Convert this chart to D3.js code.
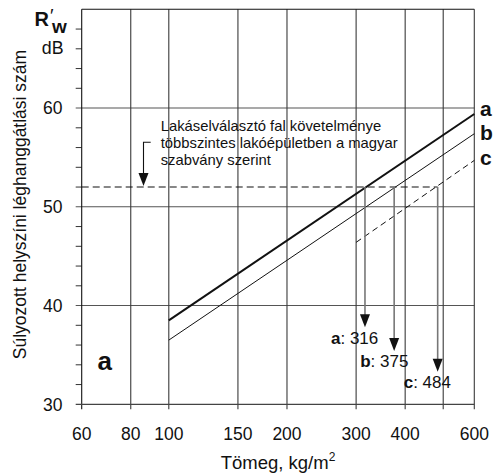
<!DOCTYPE html>
<html><head><meta charset="utf-8">
<script src="https://cdn.jsdelivr.net/npm/d3@7"></script>
<style>
body{margin:0;background:#fff}
svg{display:block}
text{font-family:"Liberation Sans",Arial,Helvetica,sans-serif;fill:#111}
</style>
</head><body>
<svg id="chart" width="494" height="475"></svg>
<script>
// ---- data ----
const xTickValues = [60, 80, 100, 150, 200, 300, 400, 600];
const xGridValues = [80, 100, 150, 200, 300, 400, 500, 600];
const yTickValues = [30, 40, 50, 60];
const yMinorValues = [32, 34, 36, 38, 42, 44, 46, 48, 52, 54, 56, 58, 62, 64, 66, 68];
const seriesNames = ["a", "b", "c"];
const seriesA = [[100, 38.5], [600, 59.4]];
const seriesB = [[100, 36.5], [600, 57.4]];
const seriesC = [[300, 46.4], [600, 54.7]];
const requirementDb = 52;
const resultMass = [316, 375, 484];
const resultArrowEndDb = [37.8, 35.4, 33.3];
const noteLines = ["Lakáselválasztó fal követelménye", "többszintes lakóépületben a magyar", "szabvány szerint"];
const yTitle = "Súlyozott helyszíni léghanggátlási szám";
const xTitle = "Tömeg, kg/m";

// ---- scales ----
const svg = d3.select("#chart");
const x = d3.scaleLog().domain([60, 600]).range([81.7, 474.3]);
const y = d3.scaleLinear().domain([30, 70]).range([404.3, 9.3]);
const X0 = x(60), X1 = x(600), Y0 = y(30), Y1 = y(70);
const gridCol = "#3a3a3a";

// horizontal grid
svg.append("g").selectAll("line").data(yTickValues.slice(1)).join("line")
  .attr("x1", X0 - 6).attr("x2", X1).attr("y1", d => y(d)).attr("y2", d => y(d))
  .attr("stroke", "#555").attr("stroke-width", 1.1);
// minor y ticks
svg.append("g").selectAll("line").data(yMinorValues).join("line")
  .attr("x1", X0 - 6).attr("x2", X0).attr("y1", d => y(d)).attr("y2", d => y(d))
  .attr("stroke", "#333").attr("stroke-width", 1);
// vertical grid
svg.append("g").selectAll("line").data(xGridValues).join("line")
  .attr("x1", d => x(d)).attr("x2", d => x(d)).attr("y1", Y1).attr("y2", Y0 + 5)
  .attr("stroke", gridCol).attr("stroke-width", 1.1);
// frame
svg.append("line").attr("x1", X0).attr("x2", X0).attr("y1", Y1).attr("y2", Y0 + 5).attr("stroke", "#111").attr("stroke-width", 1.1);
svg.append("line").attr("x1", X0 - 6).attr("x2", X1).attr("y1", Y0).attr("y2", Y0).attr("stroke", "#444").attr("stroke-width", 1.3);
svg.append("line").attr("x1", X0).attr("x2", X1).attr("y1", Y1).attr("y2", Y1).attr("stroke", "#111").attr("stroke-width", 1.1);

// tick labels
svg.append("g").selectAll("text").data(xTickValues).join("text")
  .attr("x", d => x(d)).attr("y", 440).attr("text-anchor", "middle")
  .style("font-size", "17.5px").text(d => d);
svg.append("g").selectAll("text").data(yTickValues).join("text")
  .attr("x", 62.5).attr("y", d => y(d) + 6.3).attr("text-anchor", "end")
  .style("font-size", "17.5px").text(d => d);

// axis titles
svg.append("text").attr("transform", "translate(26,204.5) rotate(-90)")
  .attr("text-anchor", "middle").style("font-size", "17.5px").text(yTitle);
const xt = svg.append("text").attr("x", (X0 + X1) / 2).attr("y", 469).attr("text-anchor", "middle").style("font-size", "18.5px");
xt.append("tspan").text(xTitle);
xt.append("tspan").attr("dy", -8).style("font-size", "12px").text("2");

// R'w unit label
const rw = svg.append("text").attr("x", 34.5).attr("y", 25.5).style("font-size", "20px").style("font-weight", "bold");
rw.append("tspan").text("R");
rw.append("tspan").attr("dx", 1).attr("dy", -3.5).style("font-weight", "normal").style("font-size", "19px").text("′");
rw.append("tspan").attr("x", 52).attr("dy", 10.5).style("font-size", "19px").text("w");
svg.append("text").attr("x", 63.5).attr("y", 53.5).attr("text-anchor", "end").style("font-size", "17.8px").text("dB");

// requirement dashed line
const yReq = y(requirementDb);
svg.append("line").attr("x1", X0).attr("x2", x(resultMass[2])).attr("y1", yReq).attr("y2", yReq)
  .attr("stroke", "#111").attr("stroke-width", 1.1).attr("stroke-dasharray", "7,4");

// series lines
const line = d3.line().x(d => x(d[0])).y(d => y(d[1]));
const seriesData = [seriesA, seriesB, seriesC];
const seriesStyle = [{w: 2, dash: null}, {w: 1, dash: null}, {w: 1, dash: "6,4"}];
svg.append("g").selectAll("path").data(seriesData).join("path")
  .attr("d", line).attr("fill", "none").attr("stroke", "#111")
  .attr("stroke-width", (d, i) => seriesStyle[i].w)
  .attr("stroke-dasharray", (d, i) => seriesStyle[i].dash);

// series labels at right
svg.append("g").selectAll("text").data(seriesNames).join("text")
  .attr("x", 480).attr("y", (d, i) => 115.5 + i * 24.5)
  .style("font-size", "21px").style("font-weight", "bold").text(d => d);

// big 'a'
svg.append("text").attr("x", 97.5).attr("y", 370).style("font-size", "26px").style("font-weight", "bold").text("a");

// result arrows
function arrowHead(cx, tipY, w, h) {
  return `M${cx - w / 2},${tipY - h}L${cx + w / 2},${tipY - h}L${cx},${tipY}Z`;
}
resultMass.forEach((m, i) => {
  const cx = x(m), tip = y(resultArrowEndDb[i]);
  svg.append("line").attr("x1", cx).attr("x2", cx).attr("y1", yReq).attr("y2", tip - 10)
    .attr("stroke", "#777").attr("stroke-width", 1.6);
  svg.append("path").attr("d", arrowHead(cx, tip, 10, 13)).attr("fill", "#111");
  const t = svg.append("text").attr("x", cx - 34).attr("y", tip + 16.5).style("font-size", "17px");
  t.append("tspan").style("font-weight", "bold").text(seriesNames[i]);
  t.append("tspan").text(": " + m);
});

// note text with hook arrow
const noteX = 160.7;
svg.append("g").selectAll("text").data(noteLines).join("text")
  .attr("x", noteX).attr("y", (d, i) => 130.5 + i * 17)
  .style("font-size", "14.8px").text(d => d);
const hookX = 143.5, hookY = 142.3;
svg.append("path").attr("d", `M${noteX - 10},${hookY}H${hookX}V${yReq - 10}`)
  .attr("fill", "none").attr("stroke", "#111").attr("stroke-width", 1.1);
svg.append("path").attr("d", arrowHead(hookX, yReq - 1, 10, 13)).attr("fill", "#111");
</script>
</body></html>
